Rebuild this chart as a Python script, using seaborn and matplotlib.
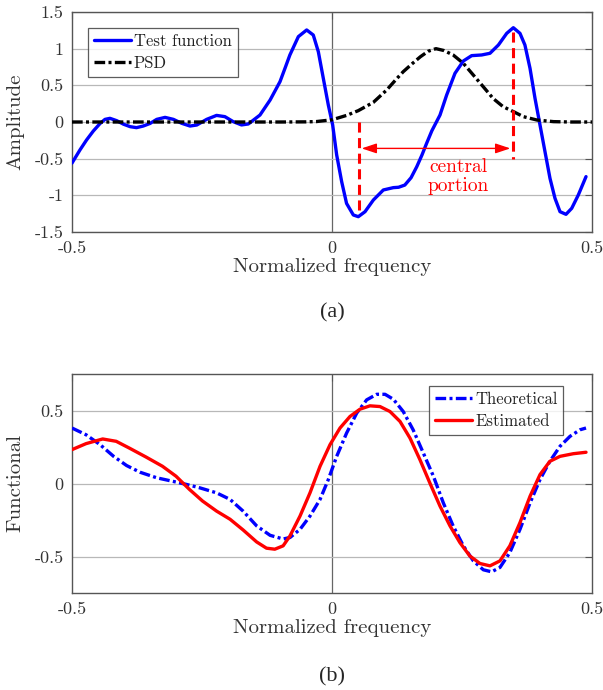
import numpy as np
import pandas as pd
import matplotlib
matplotlib.use("Agg")
import matplotlib.pyplot as plt
import seaborn as sns

# ---------------- data ----------------
test_x = [-0.5, -0.4846, -0.472, -0.459, -0.446, -0.4365, -0.427, -0.414, -0.401, -0.388,
          -0.376, -0.363, -0.35, -0.337, -0.321, -0.305, -0.289, -0.273, -0.26, -0.241,
          -0.222, -0.206, -0.19, -0.174, -0.161, -0.1577, -0.1385, -0.119, -0.1, -0.09,
          -0.081, -0.0647, -0.0487, -0.036, -0.0263, -0.0167, -0.0071, 0.0013, 0.009,
          0.0186, 0.028, 0.041, 0.0506, 0.0635, 0.0795, 0.0987, 0.118, 0.128, 0.14,
          0.152, 0.163, 0.173, 0.182, 0.192, 0.2077, 0.2205, 0.2365, 0.2526, 0.2686,
          0.2878, 0.3038, 0.32, 0.336, 0.3487, 0.3615, 0.371, 0.3808, 0.3904, 0.40,
          0.4096, 0.4192, 0.4288, 0.4385, 0.45, 0.461, 0.4737, 0.4885]
test_y = [-0.56, -0.38, -0.245, -0.123, -0.02, 0.036, 0.05, 0.018, -0.03, -0.064,
          -0.077, -0.055, -0.02, 0.036, 0.063, 0.036, -0.018, -0.055, -0.041, 0.036,
          0.09, 0.073, 0.005, -0.04, -0.027, -0.01, 0.095, 0.30, 0.55, 0.74,
          0.914, 1.164, 1.255, 1.186, 0.959, 0.595, 0.232, -0.041, -0.45,
          -0.814, -1.11, -1.268, -1.291, -1.223, -1.064, -0.927, -0.895, -0.89, -0.86,
          -0.76, -0.61, -0.45, -0.29, -0.12, 0.095, 0.368, 0.664, 0.832, 0.905,
          0.914, 0.937, 1.05, 1.209, 1.286, 1.209, 1.05, 0.732, 0.323, -0.041,
          -0.405, -0.768, -1.04, -1.223, -1.259, -1.177, -0.995, -0.745]

psd_x = [-0.5, -0.2, -0.1, -0.05, -0.03, 0.0, 0.028, 0.0506, 0.0795, 0.1051, 0.1244,
         0.137, 0.155, 0.17, 0.185, 0.2, 0.215, 0.233, 0.2526, 0.2718, 0.291, 0.31,
         0.329, 0.349, 0.368, 0.394, 0.426, 0.46, 0.5]
psd_y = [0.0, 0.0, 0.0, 0.002, 0.006, 0.03, 0.09, 0.155, 0.268, 0.436, 0.59,
         0.686, 0.80, 0.89, 0.965, 1.0, 0.975, 0.914, 0.80, 0.64, 0.48, 0.32,
         0.209, 0.141, 0.073, 0.027, 0.005, 0.0, 0.0]

theo_x = [-0.5, -0.473, -0.446, -0.42, -0.395, -0.369, -0.337, -0.305, -0.279, -0.254,
          -0.222, -0.196, -0.171, -0.145, -0.119, -0.094, -0.0808, -0.0615, -0.0423,
          -0.023, -0.0071, 0.009, 0.028, 0.0475, 0.0667, 0.086, 0.102, 0.118, 0.137,
          0.156, 0.1756, 0.195, 0.214, 0.233, 0.2526, 0.2718, 0.291, 0.307, 0.323,
          0.342, 0.3615, 0.381, 0.40, 0.419, 0.4385, 0.4577, 0.477, 0.4885]
theo_y = [0.38, 0.334, 0.266, 0.186, 0.123, 0.077, 0.039, 0.014, -0.007, -0.03,
          -0.064, -0.109, -0.189, -0.29, -0.355, -0.38, -0.37, -0.314, -0.223,
          -0.109, 0.027, 0.186, 0.345, 0.482, 0.573, 0.611, 0.611, 0.577, 0.493,
          0.368, 0.209, 0.05, -0.132, -0.291, -0.427, -0.53, -0.591, -0.605, -0.575,
          -0.473, -0.314, -0.132, 0.027, 0.152, 0.255, 0.323, 0.368, 0.38]

est_x = [-0.5, -0.473, -0.441, -0.415, -0.39, -0.358, -0.326, -0.3, -0.274, -0.249,
         -0.222, -0.196, -0.171, -0.145, -0.126, -0.11, -0.094, -0.0808, -0.0615,
         -0.0423, -0.023, -0.0038, 0.0154, 0.0346, 0.0538, 0.073, 0.0923, 0.1115,
         0.1308, 0.15, 0.169, 0.188, 0.2077, 0.227, 0.246, 0.265, 0.2846, 0.3038,
         0.323, 0.342, 0.3615, 0.381, 0.40, 0.419, 0.4385, 0.464, 0.4885]
est_y = [0.232, 0.273, 0.305, 0.289, 0.243, 0.182, 0.118, 0.05, -0.041, -0.12,
         -0.189, -0.245, -0.318, -0.40, -0.443, -0.45, -0.427, -0.359, -0.223,
         -0.064, 0.118, 0.266, 0.38, 0.459, 0.509, 0.532, 0.527, 0.493,
         0.425, 0.311, 0.164, 0.005, -0.155, -0.291, -0.405, -0.496, -0.548, -0.564,
         -0.53, -0.427, -0.268, -0.086, 0.061, 0.152, 0.186, 0.204, 0.214]

x_ticks = [-0.5, 0, 0.5]
x_ticklabels = ["-0.5", "0", "0.5"]
a_yticks = [-1.5, -1, -0.5, 0, 0.5, 1, 1.5]
a_yticklabels = ["-1.5", "-1", "-0.5", "0", "0.5", "1", "1.5"]
b_yticks = [-0.5, 0, 0.5]
b_yticklabels = ["-0.5", "0", "0.5"]

# ---------------- style ----------------
sns.set_style("white")
plt.rcParams["font.family"] = ["cmr10", "DejaVu Serif"]
plt.rcParams["axes.unicode_minus"] = False
plt.rcParams["mathtext.fontset"] = "cm"
plt.rcParams["lines.solid_joinstyle"] = "round"
plt.rcParams["lines.dash_joinstyle"] = "round"

W, H = 603, 690
fig = plt.figure(figsize=(W / 100, H / 100), dpi=100)

def box(l, t, r, b):
    return [l / W, 1 - b / H, (r - l) / W, (b - t) / H]

ax1 = fig.add_axes(box(72, 12, 592, 232))
ax2 = fig.add_axes(box(72, 374, 592, 593))

grid_c = "#b8b8b8"
tick_c = "#333333"
DASHDOT = (0, (3.2, 1.0, 0.9, 1.0))

def style(ax, yticks, ylabels, ylim, ylabel):
    ax.set_xlim(-0.5, 0.5)
    ax.set_ylim(*ylim)
    ax.set_xticks(x_ticks)
    ax.set_xticklabels(x_ticklabels)
    ax.set_yticks(yticks)
    ax.set_yticklabels(ylabels)
    ax.yaxis.grid(True, color=grid_c, lw=0.9)
    ax.xaxis.grid(False)
    ax.axvline(0, color="#666666", lw=0.9, zorder=0.5)
    for s in ax.spines.values():
        s.set_color("#555555")
        s.set_linewidth(1.0)
    ax.tick_params(direction="in", length=5, width=0.8, color="#555555",
                   top=True, right=True, labelsize=13, labelcolor=tick_c, pad=6)
    ax.set_xlabel("Normalized frequency", fontsize=15, color=tick_c, labelpad=2)
    ax.set_ylabel(ylabel, fontsize=15, color=tick_c, labelpad=7)
    ax.set_axisbelow(True)

def legend(ax, **kw):
    leg = ax.legend(fontsize=12, frameon=True, fancybox=False, handlelength=2.2,
                    borderpad=0.35, labelspacing=0.4, handletextpad=0.2,
                    borderaxespad=0, **kw)
    leg.get_frame().set_edgecolor("#333333")
    leg.get_frame().set_linewidth(0.9)
    for t in leg.get_texts():
        t.set_color("#222222")
    return leg

# ---------------- panel (a) ----------------
df_test = pd.DataFrame({"x": test_x, "y": test_y})
df_psd = pd.DataFrame({"x": psd_x, "y": psd_y})
sns.lineplot(data=df_test, x="x", y="y", ax=ax1, color="#0000ff", lw=2.4,
             estimator=None, sort=False, label="Test function", zorder=3)
sns.lineplot(data=df_psd, x="x", y="y", ax=ax1, color="black", lw=2.4,
             estimator=None, sort=False, label="PSD", zorder=3, linestyle=DASHDOT)
style(ax1, a_yticks, a_yticklabels, (-1.5, 1.5), "Amplitude")

ax1.plot([0.051, 0.051], [0.0, -1.2], color="#ff0000", lw=2.2, ls=(0, (3.3, 1.8)), zorder=4)
ax1.plot([0.349, 0.349], [1.23, -0.5], color="#ff0000", lw=2.2, ls=(0, (3.3, 1.8)), zorder=4)
ax1.annotate("", xy=(0.057, -0.36), xytext=(0.343, -0.36),
             arrowprops=dict(arrowstyle="<|-|>,head_length=0.9,head_width=0.3",
                             color="#ff0000", lw=1.0, shrinkA=0, shrinkB=0), zorder=4)
ax1.text(0.243, -0.74, "central\nportion", color="#ff0000", fontsize=14,
         ha="center", va="center", linespacing=1.05, zorder=4)

legend(ax1, loc="upper left", bbox_to_anchor=(0.031, 0.927))

# ---------------- panel (b) ----------------
df_theo = pd.DataFrame({"x": theo_x, "y": theo_y})
df_est = pd.DataFrame({"x": est_x, "y": est_y})
sns.lineplot(data=df_theo, x="x", y="y", ax=ax2, color="#0000ff", lw=2.4,
             estimator=None, sort=False, label="Theoretical", zorder=3, linestyle=DASHDOT)
sns.lineplot(data=df_est, x="x", y="y", ax=ax2, color="#ff0000", lw=2.4,
             estimator=None, sort=False, label="Estimated", zorder=3)
style(ax2, b_yticks, b_yticklabels, (-0.75, 0.75), "Functional")

legend(ax2, loc="upper right", bbox_to_anchor=(0.945, 0.945))

fig.text(332 / W, 1 - 313 / H, "(a)", fontsize=16, family="Liberation Serif",
         ha="center", va="center")
fig.text(332 / W, 1 - 677 / H, "(b)", fontsize=16, family="Liberation Serif",
         ha="center", va="center")

fig.savefig("out.png", dpi=100, facecolor="white")
